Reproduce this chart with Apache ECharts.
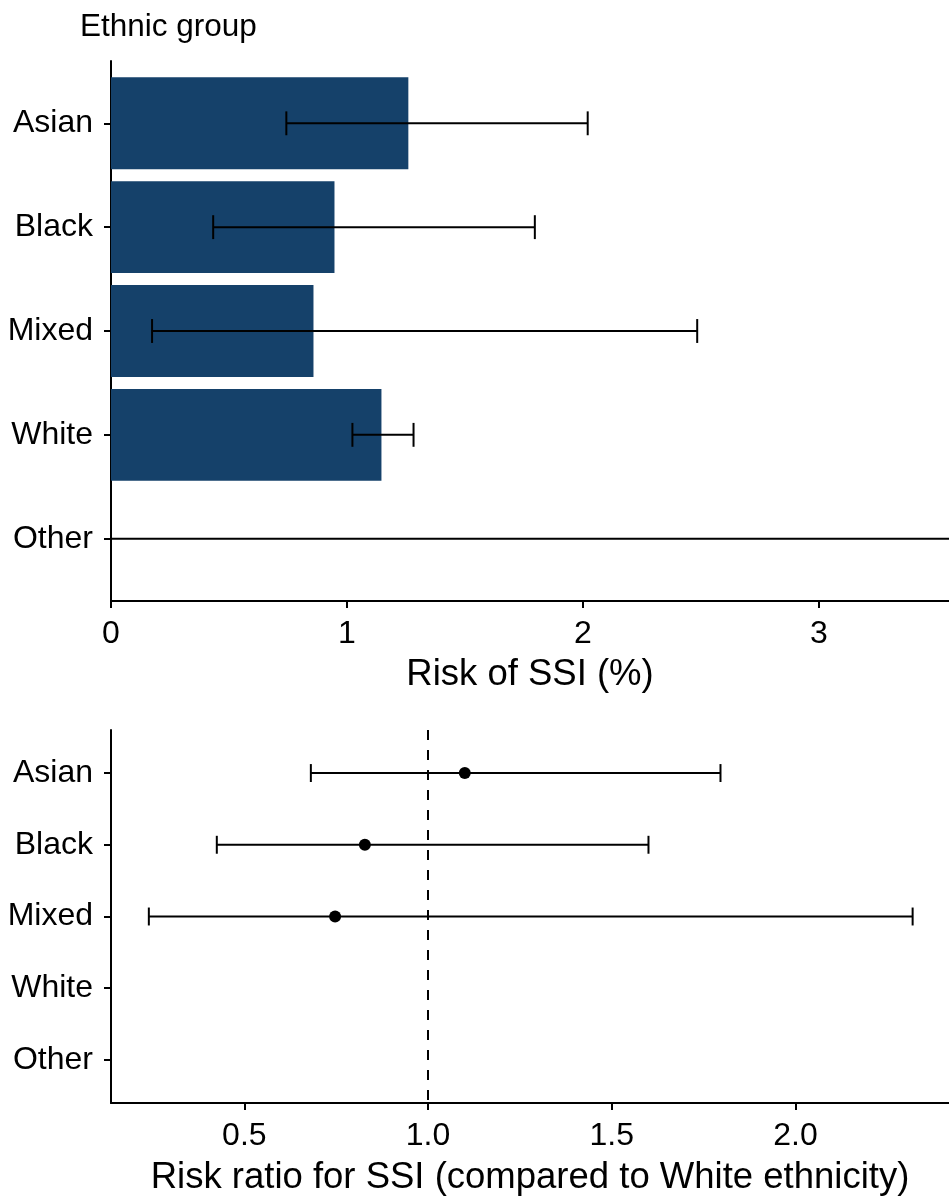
<!DOCTYPE html>
<html>
<head>
<meta charset="utf-8">
<script src="https://cdn.jsdelivr.net/npm/echarts@6/dist/echarts.min.js"></script>
<style>
  html, body { margin: 0; padding: 0; background: #fff; }
  #chart { width: 949px; height: 1202px; }
</style>
</head>
<body>
<div id="chart"></div>
<script>
// Ethnic groups, top to bottom
const groups = ['Asian', 'Black', 'Mixed', 'White', 'Other'];

// Risk of SSI (%) with 95% confidence interval
const riskPct = [1.26, 0.947, 0.858, 1.146, 0];
const riskLo  = [0.743, 0.433, 0.174, 1.023, 0];
const riskHi  = [2.02, 1.796, 2.484, 1.282, 3.69];
const riskTicks = [0, 1, 2, 3];

// Risk ratio vs White ethnicity (Asian, Black, Mixed)
const rr   = [1.10, 0.828, 0.747];
const rrLo = [0.681, 0.425, 0.240];
const rrHi = [1.796, 1.60, 2.319];
const rrTicks = [0.5, 1.0, 1.5, 2.0];

const FONT = '"Liberation Sans", Arial, sans-serif';
const BAR = '#15416a';
const groupIdx = groups.map((g, i) => i);

function barItem(params, api) {
  const v = api.value(0), i = api.value(1);
  const p0 = api.coord([0, i]);
  const p1 = api.coord([v, i]);
  const h = api.size([0, 1])[1] * 0.885;
  return {
    type: 'rect',
    shape: { x: p0[0], y: p0[1] - h / 2, width: p1[0] - p0[0], height: h },
    style: { fill: BAR }
  };
}

function errItem(capFrac) {
  return function (params, api) {
    const i = api.value(0), lo = api.value(1), hi = api.value(2);
    const a = api.coord([lo, i]);
    const b = api.coord([hi, i]);
    const c = api.size([0, 1])[1] * capFrac / 2;
    const style = { stroke: '#000', lineWidth: 2 };
    return {
      type: 'group',
      children: [
        { type: 'line', shape: { x1: a[0], y1: a[1], x2: b[0], y2: b[1] }, style },
        { type: 'line', shape: { x1: a[0], y1: a[1] - c, x2: a[0], y2: a[1] + c }, style },
        { type: 'line', shape: { x1: b[0], y1: b[1] - c, x2: b[0], y2: b[1] + c }, style }
      ]
    };
  };
}

function catAxis(gridIndex) {
  return {
    type: 'value', gridIndex, min: -0.6, max: 4.6, inverse: true,
    splitLine: { show: false },
    axisLine: { show: true, lineStyle: { color: '#000', width: 2 } },
    axisTick: { show: true, length: 7, lineStyle: { color: '#000', width: 2 }, customValues: groupIdx },
    axisLabel: {
      customValues: groupIdx, margin: 18, fontSize: 32, color: '#000', fontFamily: FONT,
      padding: [10, 0, 0, 0],
      formatter: v => groups[Math.round(v)]
    }
  };
}

const chart = echarts.init(document.getElementById('chart'));
chart.setOption({
  animation: false,
  backgroundColor: '#fff',
  graphic: [{
    type: 'text', left: 80, top: 11,
    style: { text: 'Ethnic group', fontSize: 31.5, fill: '#000', fontFamily: FONT }
  }],
  grid: [
    { left: 111, right: 0, top: 61, height: 540, outerBoundsMode: 'none' },
    { left: 111, right: 0, top: 730, height: 373, outerBoundsMode: 'none' }
  ],
  xAxis: [
    {
      type: 'value', gridIndex: 0, min: 0, max: 3.551,
      splitLine: { show: false },
      axisLine: { show: true, onZero: false, lineStyle: { color: '#000', width: 2 } },
      axisTick: { show: true, length: 7, lineStyle: { color: '#000', width: 2 }, customValues: riskTicks },
      axisLabel: { customValues: riskTicks, margin: 17, fontSize: 32, color: '#000', fontFamily: FONT },
      name: 'Risk of SSI (%)', nameLocation: 'middle', nameGap: 55,
      nameTextStyle: { fontSize: 36.5, color: '#000', fontFamily: FONT }
    },
    {
      type: 'value', gridIndex: 1, min: 0.137, max: 2.418,
      splitLine: { show: false },
      axisLine: { show: true, onZero: false, lineStyle: { color: '#000', width: 2 } },
      axisTick: { show: true, length: 7, lineStyle: { color: '#000', width: 2 }, customValues: rrTicks },
      axisLabel: {
        customValues: rrTicks, margin: 17, fontSize: 32, color: '#000', fontFamily: FONT,
        formatter: v => v.toFixed(1)
      },
      name: 'Risk ratio for SSI (compared to White ethnicity)', nameLocation: 'middle', nameGap: 56,
      nameTextStyle: { fontSize: 36.5, color: '#000', fontFamily: FONT }
    }
  ],
  yAxis: [catAxis(0), catAxis(1)],
  series: [
    {
      type: 'custom', xAxisIndex: 0, yAxisIndex: 0, clip: true,
      renderItem: barItem,
      data: riskPct.map((v, i) => [v, i])
    },
    {
      type: 'custom', xAxisIndex: 0, yAxisIndex: 0, clip: true,
      renderItem: errItem(0.23),
      data: riskLo.map((lo, i) => [i, lo, riskHi[i]])
    },
    {
      type: 'custom', xAxisIndex: 1, yAxisIndex: 1, clip: true,
      renderItem: errItem(0.25),
      data: rrLo.map((lo, i) => [i, lo, rrHi[i]]),
      markLine: {
        silent: true, symbol: 'none', label: { show: false },
        lineStyle: { color: '#000', width: 2, type: [10, 10] },
        data: [{ xAxis: 1 }]
      }
    },
    {
      type: 'scatter', xAxisIndex: 1, yAxisIndex: 1,
      symbol: 'circle', symbolSize: 12,
      itemStyle: { color: '#000', opacity: 1 },
      data: rr.map((v, i) => [v, i]),
      z: 5
    }
  ]
});
</script>
</body>
</html>
